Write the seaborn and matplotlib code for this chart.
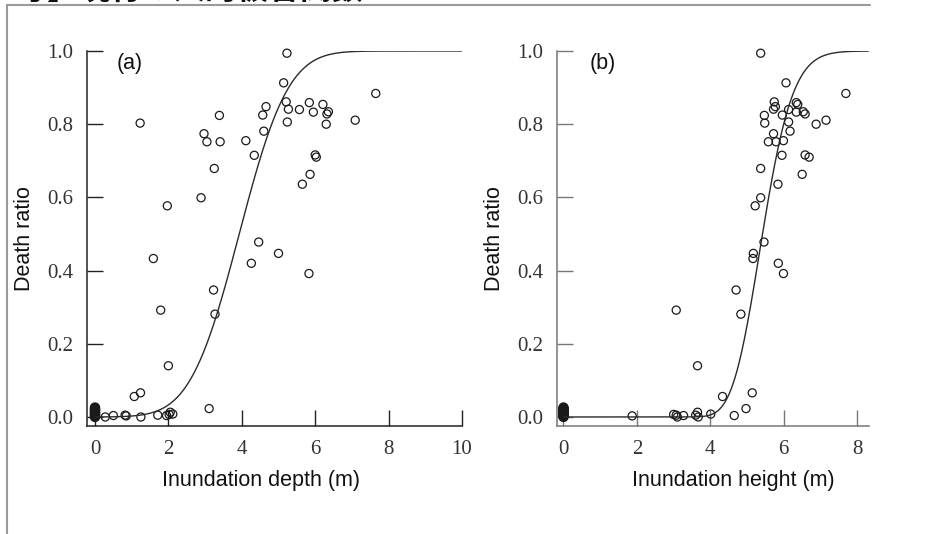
import math
import numpy as np
import pandas as pd
import matplotlib
matplotlib.use("Agg")
import matplotlib.pyplot as plt
from matplotlib.lines import Line2D
import seaborn as sns

# Observed death ratio per district, with inundation depth and height (m)
death_ratio = [0.994, 0.913, 0.884, 0.861, 0.859, 0.854, 0.848, 0.841, 0.840, 0.833,
               0.834, 0.828, 0.824, 0.825, 0.811, 0.806, 0.803, 0.800, 0.781, 0.774,
               0.755, 0.752, 0.752, 0.716, 0.710, 0.715, 0.679, 0.663, 0.636, 0.599,
               0.577, 0.478, 0.447, 0.433, 0.420, 0.392, 0.347, 0.281, 0.292, 0.140,
               0.066, 0.056, 0.023, 0.000, 0.004, 0.005, 0.003, 0.000, 0.005, 0.004,
               0.013, 0.008, 0.007]
depth_m = [5.23, 5.14, 7.65, 5.21, 5.84, 6.21, 4.66, 5.27, 5.57, 5.95,
           6.36, 6.32, 3.39, 4.57, 7.09, 5.24, 1.23, 6.30, 4.60, 2.97,
           4.11, 3.05, 3.41, 6.00, 6.03, 4.34, 3.25, 5.86, 5.65, 2.89,
           1.97, 4.46, 5.00, 1.59, 4.26, 5.83, 3.23, 3.27, 1.79, 2.00,
           1.24, 1.07, 3.11, 0.28, 0.50, 0.82, 0.85, 1.25, 1.71, 1.95,
           2.05, 2.12, 2.02]
height_m = [5.37, 6.06, 7.69, 5.74, 6.34, 6.38, 5.77, 5.72, 6.13, 6.34,
            6.53, 6.58, 5.47, 5.96, 7.15, 6.13, 5.48, 6.88, 6.17, 5.72,
            5.99, 5.58, 5.79, 6.58, 6.69, 5.95, 5.37, 6.50, 5.84, 5.37,
            5.22, 5.46, 5.17, 5.16, 5.85, 5.99, 4.70, 4.83, 3.07, 3.65,
            5.14, 4.33, 4.97, 3.10, 4.65, 3.07, 1.87, 3.67, 3.60, 3.27,
            3.65, 4.01, 3.00]
# Districts with no inundation (x = 0)
zero_ratio = [0.000, 0.002, 0.004, 0.006, 0.008, 0.010, 0.012, 0.014,
              0.016, 0.018, 0.020, 0.022, 0.024, 0.026]

# Fitted fragility curves
depth_mu, depth_sigma = 3.93, 1.05          # normal CDF of depth
height_median, height_beta = 5.42, 0.12     # lognormal CDF of height

ratio_ticks = [0.0, 0.2, 0.4, 0.6, 0.8, 1.0]
depth_ticks = [0, 2, 4, 6, 8, 10]
height_ticks = [0, 2, 4, 6, 8]

_erf = np.vectorize(math.erf)


def normal_cdf(x, mu, sigma):
    return 0.5 * (1.0 + _erf((x - mu) / (sigma * math.sqrt(2.0))))


def lognormal_cdf(x, median, beta):
    x = np.asarray(x, dtype=float)
    out = np.zeros_like(x)
    pos = x > 0
    out[pos] = 0.5 * (1.0 + _erf(np.log(x[pos] / median) / (beta * math.sqrt(2.0))))
    return out


sns.set_theme(style="white")
plt.rcParams["font.family"] = ["Liberation Sans", "DejaVu Sans"]

W, H = 940, 534
fig = plt.figure(figsize=(W / 100, H / 100), dpi=100)
fig.patch.set_facecolor("white")


def fx(px):
    return px / W


def fy(py):
    return 1 - py / H


# slide frame and the slide heading running off the top edge
fig.add_artist(Line2D([fx(7), fx(7)], [0, fy(5)], transform=fig.transFigure,
                      color="#9a9a9a", lw=1.5))
fig.add_artist(Line2D([fx(7), fx(870)], [fy(5), fy(5)], transform=fig.transFigure,
                      color="#9a9a9a", lw=1.5))
fig.text(fx(-48), fy(-1.5), "【参考】現行の人的被害関数", ha="left", va="baseline",
         fontsize=22.8, fontweight="bold", color="#111111",
         family=["Noto Sans CJK JP", "DejaVu Sans"])

pts = pd.DataFrame({"ratio": death_ratio, "depth": depth_m, "height": height_m})
zeros = pd.DataFrame({"x": [0.0] * len(zero_ratio), "ratio": zero_ratio})

panels = [
    dict(left=87, right=462, xlim=(-0.218, 10.0), col="depth", ticks=depth_ticks,
         xlabel="Inundation depth (m)", xlab_pos=0.465, ylab_px=25,
         tag="(a)", tag_px=130, axis_color="#222222",
         curve=lambda x: normal_cdf(x, depth_mu, depth_sigma), xmax=10.0),
    dict(left=557, right=869, xlim=(-0.177, 8.32), col="height", ticks=height_ticks,
         xlabel="Inundation height (m)", xlab_pos=0.564, ylab_px=495,
         tag="(b)", tag_px=603, axis_color="#777777",
         curve=lambda x: lognormal_cdf(x, height_median, height_beta), xmax=8.32),
]

top_px, bottom_px = 51, 426
for p in panels:
    width_px = p["right"] - p["left"]
    ax = fig.add_axes([fx(p["left"]), fy(bottom_px), width_px / W,
                       (bottom_px - top_px) / H])
    ax.set_facecolor("white")

    xs = np.linspace(0, p["xmax"], 600)
    sns.lineplot(x=xs, y=p["curve"](xs), ax=ax, color="#2a2a2a", lw=1.0,
                 estimator=None, sort=False)

    sns.scatterplot(data=pts, x=p["col"], y="ratio", ax=ax, s=34, marker="o")
    sns.scatterplot(data=zeros, x="x", y="ratio", ax=ax, s=34, marker="o")
    for coll in ax.collections:
        coll.set_facecolor("none")
        coll.set_edgecolor("#1a1a1a")
        coll.set_linewidth(0.9)
        coll.set_clip_on(False)
    ax.collections[-1].set_linewidth(1.6)

    ax.set_xlim(*p["xlim"])
    ax.set_ylim(-0.0246, 1.0)
    ax.set_xticks(p["ticks"])
    ax.set_xticklabels([str(t) for t in p["ticks"]])
    ax.set_yticks(ratio_ticks)
    ax.set_yticklabels([f"{t:.1f}" for t in ratio_ticks])
    for lab in ax.get_xticklabels() + ax.get_yticklabels():
        lab.set_fontfamily("Liberation Serif")
        lab.set_fontsize(15)
        lab.set_color("#333333")
    ax.tick_params(axis="both", direction="in", length=11.5, width=1.0,
                   color=p["axis_color"], pad=10)
    ax.tick_params(axis="both", which="both", bottom=True, left=True,
                   top=False, right=False)

    for side in ("top", "right"):
        ax.spines[side].set_visible(False)
    for side in ("left", "bottom"):
        ax.spines[side].set_color(p["axis_color"])
        ax.spines[side].set_linewidth(1.1)

    ax.set_xlabel("")
    ax.set_ylabel("")
    ax.text(p["xlab_pos"], -0.145, p["xlabel"], transform=ax.transAxes,
            ha="center", va="center", fontsize=15.5, color="#111111")
    ax.text((p["ylab_px"] - p["left"]) / width_px, 0.5, "Death ratio",
            transform=ax.transAxes, rotation=90, ha="center", va="center",
            fontsize=15.5, color="#111111")
    ax.text((p["tag_px"] - p["left"]) / width_px,
            (bottom_px - 64) / (bottom_px - top_px), p["tag"], transform=ax.transAxes,
            ha="center", va="center", fontsize=15.5, color="#111111")

fig.savefig("out.png", dpi=100, facecolor="white")
